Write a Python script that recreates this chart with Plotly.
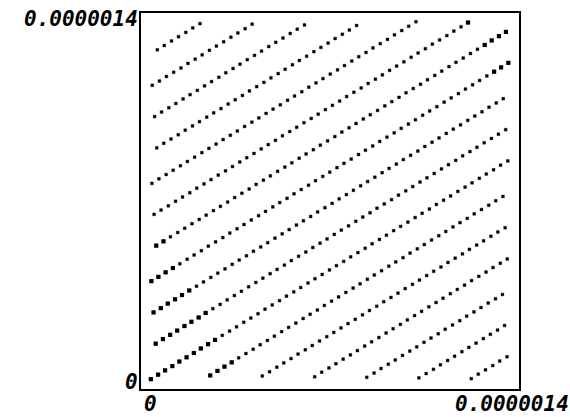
import plotly.graph_objects as go

# Values are in units of 1e-9 (axes run 0 .. 0.0000014)
UNIT = 1e-9

# Lattice stripes of points (x, y), bottom-right stripes s0..s6, upper-left stripes m1..m10
s0_x = [33,60,86,113,139,166,193,219,246,272,299,326,352,379,405,432,458,485,512,538,565,591,618,644,671,698,724,751,777,804,831,857,884,910,937,963,990,1017,1043,1070,1096,1123,1149,1176,1203,1229,1256,1282,1309,1335,1362]
s0_y = [33,50,66,82,99,115,131,148,164,180,197,213,229,246,262,278,295,311,327,344,360,376,393,409,425,442,458,474,491,507,523,540,556,572,589,605,621,638,654,670,687,703,719,736,752,768,785,801,817,834,850]

s1_x = [254,281,307,334,360,387,414,440,467,493,520,546,573,600,626,653,679,706,732,759,786,812,839,865,892,919,945,972,998,1025,1051,1078,1105,1131,1158,1184,1211,1237,1264,1291,1317,1344]
s1_y = [47,64,80,96,113,129,145,162,178,194,211,227,243,260,276,292,309,325,341,358,374,390,407,423,439,456,472,488,505,521,537,554,570,586,603,619,635,652,668,684,701,717]

s2_x = [448,475,502,528,555,581,608,634,661,688,714,741,767,794,821,847,874,900,927,953,980,1007,1033,1060,1086,1113,1139,1166,1193,1219,1246,1272,1299,1325,1352]
s2_y = [45,61,78,94,110,127,143,159,176,192,208,225,241,257,274,290,306,323,339,355,372,388,404,421,437,453,470,486,502,519,535,551,568,584,600]

s3_x = [643,669,696,722,749,776,802,829,855,882,909,935,962,988,1015,1041,1068,1095,1121,1148,1174,1201,1227,1254,1281,1307,1334,1360]
s3_y = [42,59,75,91,108,124,140,157,173,189,206,222,238,255,271,287,304,320,336,353,369,385,402,418,434,451,467,483]

s4_x = [837,864,890,917,943,970,997,1023,1050,1076,1103,1129,1156,1183,1209,1236,1262,1289,1316,1342]
s4_y = [40,56,73,89,105,122,138,154,171,187,203,220,236,252,269,285,301,318,334,350]

s5_x = [1031,1058,1085,1111,1138,1164,1191,1217,1244,1271,1297,1324,1350]
s5_y = [38,54,70,87,103,119,136,152,168,185,201,217,234]

s6_x = [1226,1252,1279,1306,1332,1359]
s6_y = [35,52,68,84,101,117]

m1_x = [51,78,105,131,158,184,211,237,264,291,317,344,370,397,424,450,477,503,530,556,583,610,636,663,689,716,742,769,796,822,849,875,902,929,955,982,1008,1035,1061,1088,1115,1141,1168,1194,1221,1247,1274,1301,1327,1354]
m1_y = [166,183,199,215,232,248,264,281,297,313,330,346,362,379,395,411,428,444,460,477,493,509,526,542,558,575,591,607,624,640,656,673,689,705,722,738,754,771,787,803,820,836,852,869,885,901,918,934,950,967]

m2_x = [43,70,96,123,149,176,203,229,256,282,309,336,362,389,415,442,468,495,522,548,575,601,628,654,681,708,734,761,787,814,840,867,894,920,947,973,1000,1027,1053,1080,1106,1133,1159,1186,1213,1239,1266,1292,1319,1345]
m2_y = [283,299,316,332,348,365,381,397,414,430,446,463,479,495,512,528,544,561,577,593,610,626,642,659,675,691,708,724,740,757,773,789,806,822,838,855,871,887,904,920,936,953,969,985,1002,1018,1034,1051,1067,1083]

m3_x = [35,61,88,115,141,168,194,221,247,274,301,327,354,380,407,434,460,487,513,540,566,593,620,646,673,699,726,752,779,806,832,859,885,912,939,965,992,1018,1045,1071,1098,1125,1151,1178,1204,1231,1257,1284,1311,1337,1364]
m3_y = [400,416,433,449,465,482,498,514,531,547,563,580,596,612,629,645,661,678,694,710,727,743,759,776,792,808,825,841,857,874,890,906,923,939,955,972,988,1004,1021,1037,1053,1070,1086,1102,1119,1135,1151,1168,1184,1200,1217]

m4_x = [53,80,106,133,159,186,213,239,266,292,319,345,372,399,425,452,478,505,532,558,585,611,638,664,691,718,744,771,797,824,850,877,904,930,957,983,1010,1037,1063,1090,1116,1143,1169,1196,1223,1249,1276,1302,1329,1355]
m4_y = [533,549,566,582,598,615,631,647,664,680,696,713,729,745,762,778,794,811,827,843,860,876,892,909,925,941,958,974,990,1007,1023,1039,1056,1072,1088,1105,1121,1137,1154,1170,1186,1203,1219,1235,1252,1268,1284,1301,1317,1333]

m5_x = [45,71,98,125,151,178,204,231,257,284,311,337,364,390,417,444,470,497,523,550,576,603,630,656,683,709,736,762,789,816,842,869,895,922,948,975,1002,1028,1055,1081,1108,1135,1161,1188,1214]
m5_y = [650,666,682,699,715,731,748,764,780,797,813,829,846,862,878,895,911,927,944,960,976,993,1009,1025,1042,1058,1074,1091,1107,1123,1140,1156,1172,1189,1205,1221,1238,1254,1270,1287,1303,1319,1336,1352,1368]

m6_x = [37,63,90,116,143,169,196,223,249,276,302,329,355,382,409,435,462,488,515,542,568,595,621,648,674,701,728,754,781,807,834,860,887,914,940,967,993,1020]
m6_y = [766,783,799,815,832,848,864,881,897,913,930,946,962,979,995,1011,1028,1044,1060,1077,1093,1109,1126,1142,1158,1175,1191,1207,1224,1240,1256,1273,1289,1305,1322,1338,1354,1371]

m7_x = [55,81,108,135,161,188,214,241,267,294,321,347,374,400,427,454,480,507,533,560,586,613,640,666,693,719,746,772,799]
m7_y = [899,916,932,948,965,981,997,1014,1030,1046,1063,1079,1095,1112,1128,1144,1161,1177,1193,1210,1226,1242,1259,1275,1291,1308,1324,1340,1357]

m8_x = [47,73,100,126,153,179,206,233,259,286,312,339,365,392,419,445,472,498,525,552,578,605]
m8_y = [1016,1033,1049,1065,1082,1098,1114,1131,1147,1163,1180,1196,1212,1229,1245,1261,1278,1294,1310,1327,1343,1359]

m9_x = [38,65,91,118,145,171,198,224,251,277,304,331,357,384,410]
m9_y = [1133,1149,1166,1182,1198,1215,1231,1247,1264,1280,1296,1313,1329,1345,1362]

m10_x = [57,83,110,136,163,189,216]
m10_y = [1266,1282,1299,1315,1331,1348,1364]

# Points drawn heavier in the reference (near the two corners)
big_x = [33,60,86,113,139,166,193,219,246,272, 254,281,307,334,
         51,78,105,131,158,184,211,237, 43,70,96,123,149,176,
         35,61,88,115, 53,80,
         1214, 1276,1302,1329,1355, 1311,1337,1364]
big_y = [33,50,66,82,99,115,131,148,164,180, 47,64,80,96,
         166,183,199,215,232,248,264,281, 283,299,316,332,348,365,
         400,416,433,449, 533,549,
         1368, 1284,1301,1317,1333, 1184,1200,1217]

tick_vals = [0, 1.4e-6]
tick_text = ["0", "0.0000014"]

stripes_x = [s0_x, s1_x, s2_x, s3_x, s4_x, s5_x, s6_x, m1_x, m2_x, m3_x, m4_x, m5_x, m6_x, m7_x, m8_x, m9_x, m10_x]
stripes_y = [s0_y, s1_y, s2_y, s3_y, s4_y, s5_y, s6_y, m1_y, m2_y, m3_y, m4_y, m5_y, m6_y, m7_y, m8_y, m9_y, m10_y]

all_x = [v * UNIT for sx in stripes_x for v in sx]
all_y = [v * UNIT for sy in stripes_y for v in sy]

fig = go.Figure()
fig.add_trace(go.Scatter(
    x=all_x, y=all_y, mode="markers",
    marker=dict(symbol="square", size=2.8, color="black", line=dict(width=0.4, color="black")),
    showlegend=False, hoverinfo="skip"))
fig.add_trace(go.Scatter(
    x=[v * UNIT for v in big_x], y=[v * UNIT for v in big_y], mode="markers",
    marker=dict(symbol="square", size=4.2, color="black", line=dict(width=0)),
    showlegend=False, hoverinfo="skip"))

axis_common = dict(
    showgrid=False, zeroline=False, showline=True, linecolor="black", linewidth=2,
    mirror="ticks", ticks="inside", ticklen=7, tickwidth=1, tickcolor="black",
    tickvals=tick_vals, showticklabels=False,
)
fig.update_xaxes(range=[-3.684e-9, 1.403684e-6], **axis_common)
fig.update_yaxes(range=[-3.704e-9, 1.403704e-6], **axis_common)

lab_font = dict(family="DejaVu Sans Mono", size=21, color="black", style="italic", weight="bold")
W, H, L, T = 378, 376, 141, 13
def px(X):
    return (X - L) / W
def py(Y):
    return (T + H - Y) / H

annos = [
    dict(text=tick_text[1], x=px(139), y=py(19.5), xanchor="right", yanchor="middle"),
    dict(text=tick_text[0], x=px(139), y=py(381.5), xanchor="right", yanchor="middle"),
    dict(text=tick_text[0], x=px(150.5), y=py(417), xanchor="center", yanchor="bottom"),
    dict(text=tick_text[1], x=px(511.5), y=py(417), xanchor="center", yanchor="bottom"),
]
for a in annos:
    fig.add_annotation(xref="paper", yref="paper", showarrow=False, font=lab_font,
                       borderpad=0, **a)

fig.update_layout(
    width=570, height=417,
    margin=dict(l=L, r=570 - L - W, t=T, b=417 - T - H, pad=0),
    paper_bgcolor="white", plot_bgcolor="white",
)

fig.write_html("out.html")
